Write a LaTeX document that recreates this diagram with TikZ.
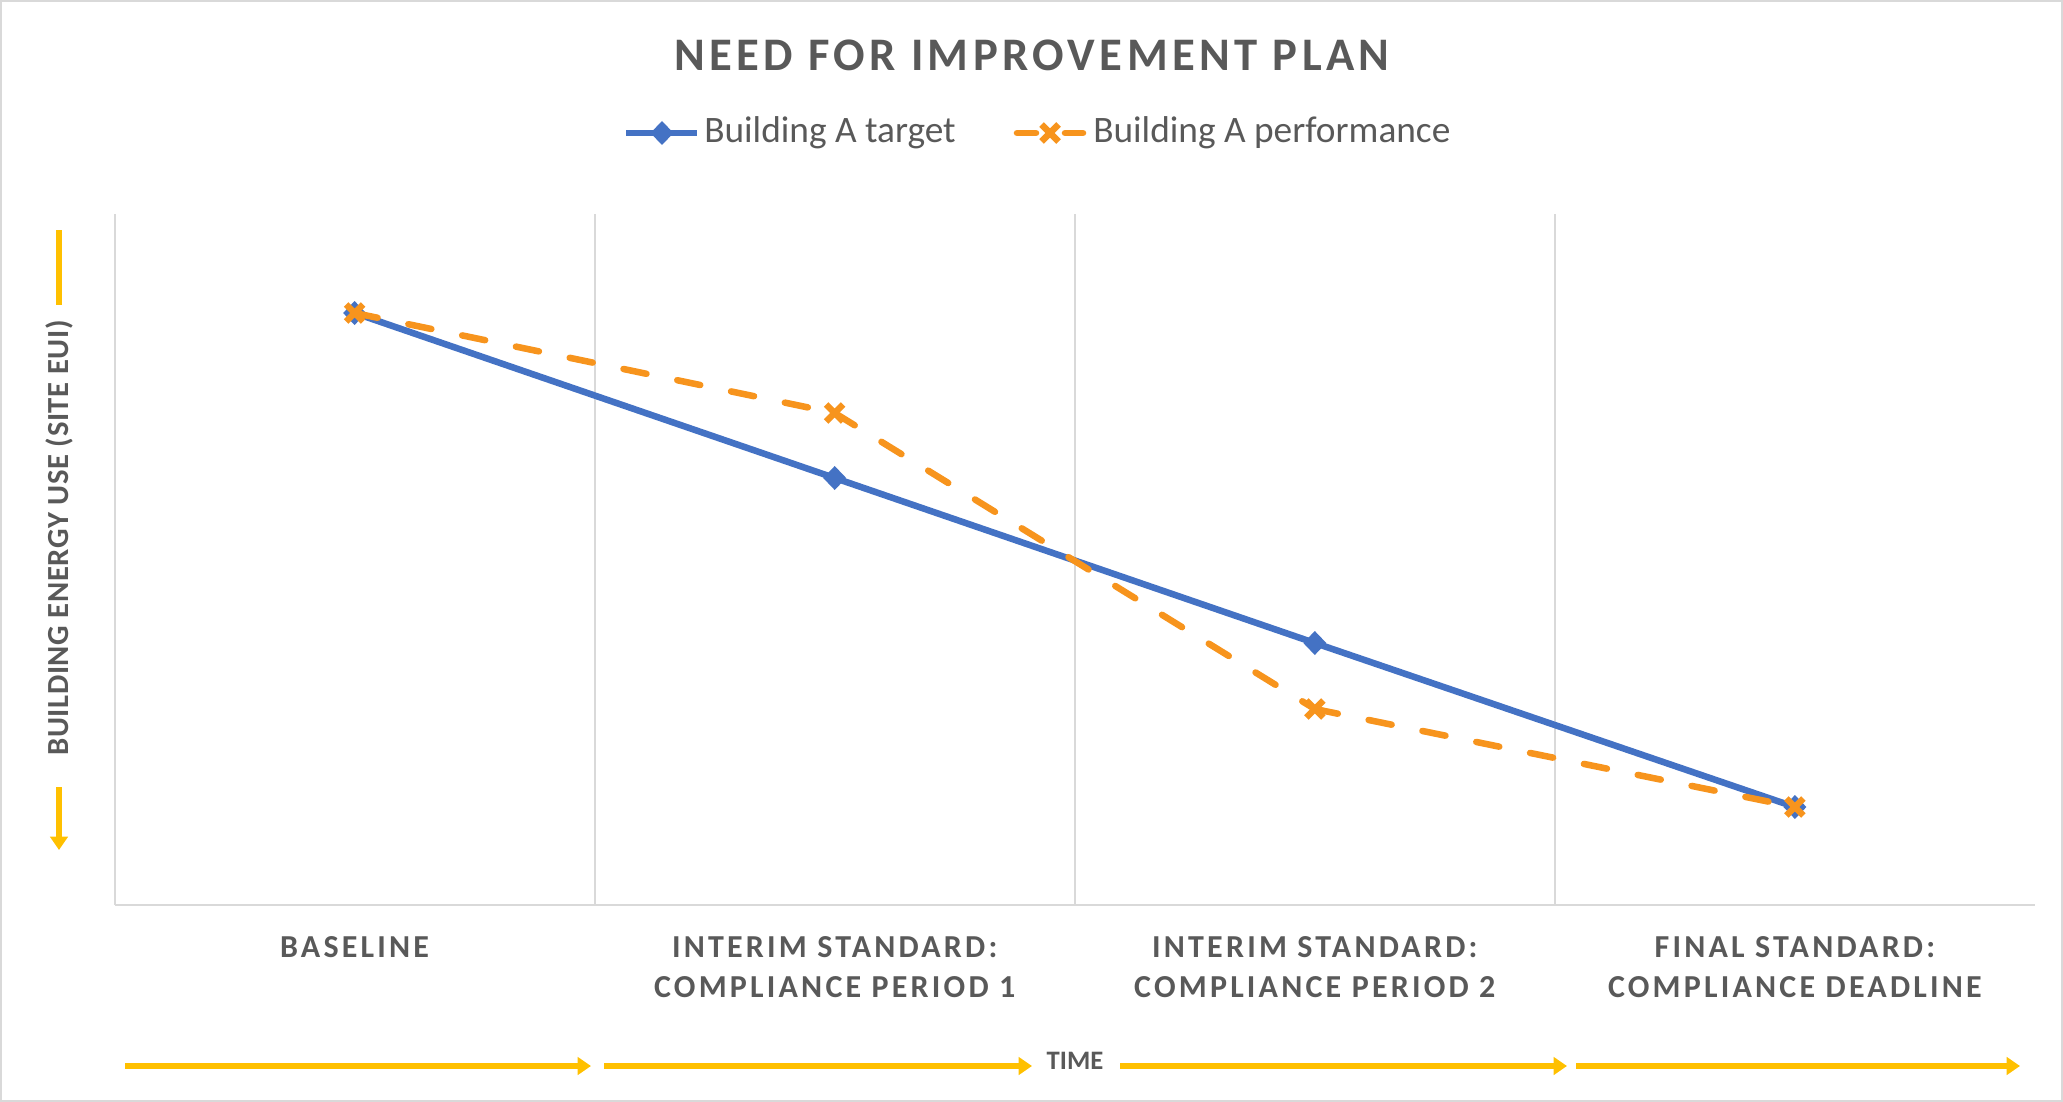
\documentclass[tikz,border=0pt]{standalone}
\usepackage{fontspec}
\setmainfont{Carlito}
\usetikzlibrary{arrows.meta}
\definecolor{tblue}{HTML}{4472C4}
\definecolor{torange}{HTML}{F7941D}
\definecolor{tyellow}{HTML}{FFC000}
\definecolor{tgray}{HTML}{595959}
\definecolor{tgrid}{HTML}{D9D9D9}
\begin{document}
\begin{tikzpicture}[x=0.75pt,y=-0.75pt,
  gridline/.style={tgrid, line width=1.5pt},
  tgtline/.style={tblue, line width=4.9pt, line join=round},
  perfline/.style={torange, line width=4.9pt, line cap=round, dash pattern=on 17.6pt off 23.6pt},
  tgtmark/.pic={\fill[tblue, line join=round] (0,-12) -- (11.5,0) -- (0,12) -- (-11.5,0) -- cycle;},
  perfmark/.pic={\draw[torange, line width=4.8pt] (-8.5,-8.5) -- (8.5,8.5) (-8.5,8.5) -- (8.5,-8.5);},
  catlabel/.style={text=tgray, font=\fontsize{24}{30}\selectfont\bfseries\addfontfeatures{LetterSpace=10}, align=center},
  timearrow/.style={tyellow, line width=4pt, -{Triangle[length=10pt,width=13pt]}},
]
\useasboundingbox (0,0) rectangle (2063,1102);
\draw[tgrid, line width=1.5pt] (1,1) rectangle (2062,1101);
% title
\node[text=tgray, font=\fontsize{35}{40}\selectfont\bfseries\addfontfeatures{LetterSpace=9.5}] (title) at (1032,55) {NEED FOR IMPROVEMENT PLAN};
% legend
\coordinate (la) at (626,133); \coordinate (lb) at (697,133);
\draw[tgtline] (la) -- (lb);
\pic at (662,133) {tgtmark};
\node[anchor=west, text=tgray, font=\fontsize{28}{30}\selectfont, inner sep=0pt] (lt) at (704,133) {Building A target};
\coordinate (lc) at (1017,133); \coordinate (ld) at (1083,133);
\draw[torange, line width=4.9pt, line cap=round] (lc) -- (1036,133) (1065,133) -- (ld);
\pic at (1050,133) {perfmark};
\node[anchor=west, text=tgray, font=\fontsize{28}{30}\selectfont, inner sep=0pt] (lp) at (1093,133) {Building A performance};
% grid
\foreach \gx in {114.5,594.8,1075,1555.2} \draw[gridline] (\gx,214) -- (\gx,905);
\draw[gridline] (114.5,905) -- (2035,905);
% data
\coordinate (t1) at (354.6,313); \coordinate (t2) at (834.7,478);
\coordinate (t3) at (1314.8,643); \coordinate (t4) at (1794.9,807);
\coordinate (p1) at (354.6,313); \coordinate (p2) at (834.7,413);
\coordinate (p3) at (1314.8,709); \coordinate (p4) at (1794.9,807);
\draw[tgtline] (t1) -- (t2) -- (t3) -- (t4);
\foreach \p in {t1,t2,t3,t4} \pic at (\p) {tgtmark};
\draw[perfline] (p1) -- (p2);
\draw[perfline] (p2) -- (p3);
\draw[perfline] (p3) -- (p4);
\foreach \p in {p1,p2,p3,p4} \pic at (\p) {perfmark};
% category labels
\node[catlabel, anchor=north] (c1) at (354.6,932) {BASELINE};
\node[catlabel, anchor=north] (c2) at (834.7,932) {INTERIM STANDARD:\\COMPLIANCE PERIOD 1};
\node[catlabel, anchor=north] (c3) at (1314.8,932) {INTERIM STANDARD:\\COMPLIANCE PERIOD 2};
\node[catlabel, anchor=north] (c4) at (1794.9,932) {FINAL STANDARD:\\COMPLIANCE DEADLINE};
% time axis
\node[text=tgray, font=\fontsize{20}{24}\selectfont\bfseries] (time) at (1075,1061) {TIME};
\coordinate (a1s) at (125,1066); \coordinate (a1e) at (591,1066);
\coordinate (a2s) at (604,1066); \coordinate (a2e) at (1032,1066);
\coordinate (a3s) at (1120,1066); \coordinate (a3e) at (1567,1066);
\coordinate (a4s) at (1576,1066); \coordinate (a4e) at (2020,1066);
\draw[timearrow] (a1s) -- (a1e);
\draw[timearrow] (a2s) -- (a2e);
\draw[timearrow] (a3s) -- (a3e);
\draw[timearrow] (a4s) -- (a4e);
% y axis label
\node[rotate=90, text=tgray, font=\fontsize{23}{24}\selectfont\bfseries\addfontfeatures{LetterSpace=2}] (ylab) at (59,538) {BUILDING ENERGY USE (SITE EUI)};
\coordinate (y1s) at (59,230); \coordinate (y1e) at (59,305);
\coordinate (y2s) at (59,787); \coordinate (y2e) at (59,850);
\draw[tyellow, line width=4pt] (y1s) -- (y1e);
\draw[timearrow] (y2s) -- (y2e);
\end{tikzpicture}
\end{document}
